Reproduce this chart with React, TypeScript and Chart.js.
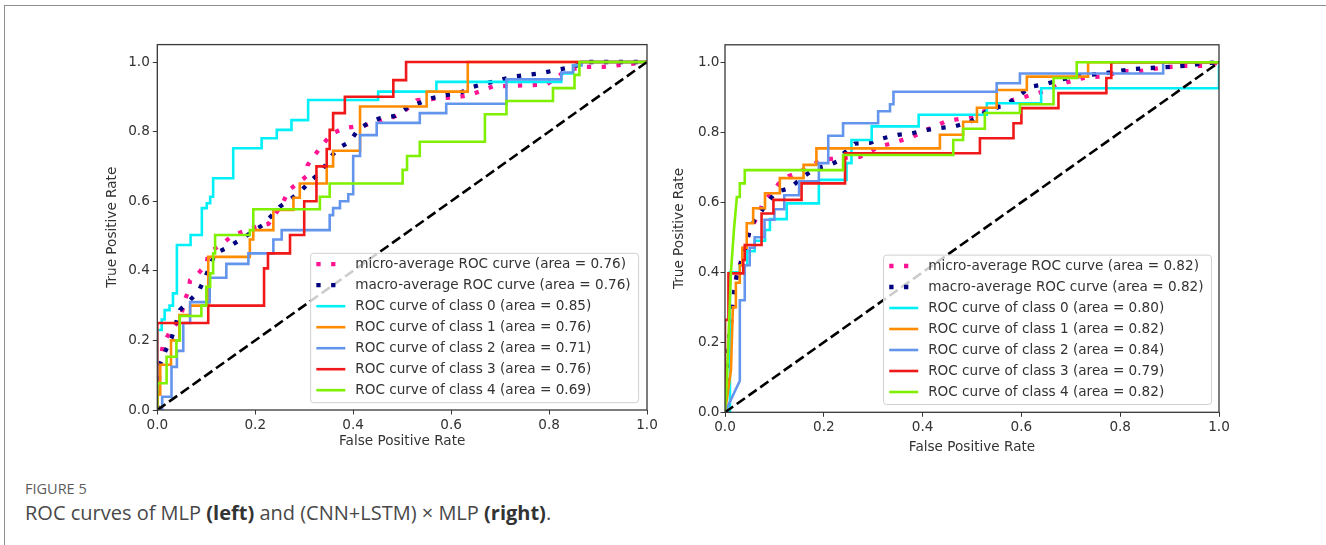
import React, { useEffect, useRef } from 'react';
import { Chart, registerables } from 'chart.js';

Chart.register(...registerables);

// ---------------- data ----------------
const tickValues = [0, 0.2, 0.4, 0.6, 0.8, 1.0];
const seriesNames = [
  'micro-average ROC curve',
  'macro-average ROC curve',
  'ROC curve of class 0',
  'ROC curve of class 1',
  'ROC curve of class 2',
  'ROC curve of class 3',
  'ROC curve of class 4',
];
const leftAreas = [0.76, 0.76, 0.85, 0.76, 0.71, 0.76, 0.69];
const rightAreas = [0.82, 0.82, 0.8, 0.82, 0.84, 0.79, 0.82];
const chanceLine = [[0, 0], [1, 1]];

// MLP (left)
const leftMicro = [[0,0],[0,0.1],[0.005,0.134],[0.012,0.19],[0.026,0.225],[0.04,0.25],[0.049,0.273],[0.056,0.316],[0.063,0.34],[0.067,0.373],[0.084,0.393],[0.101,0.421],[0.104,0.45],[0.138,0.484],[0.155,0.503],[0.175,0.513],[0.203,0.527],[0.227,0.535],[0.254,0.589],[0.269,0.632],[0.304,0.671],[0.307,0.704],[0.333,0.755],[0.356,0.793],[0.38,0.81],[0.427,0.819],[0.482,0.842],[0.503,0.857],[0.53,0.89],[0.563,0.894],[0.618,0.9],[0.638,0.905],[0.686,0.93],[0.795,0.935],[0.836,0.977],[0.876,0.986],[0.91,0.986],[1,1]];
const leftMacro = [[0,0],[0.005,0.13],[0.016,0.168],[0.029,0.206],[0.046,0.287],[0.067,0.316],[0.084,0.34],[0.097,0.378],[0.118,0.45],[0.141,0.465],[0.169,0.489],[0.216,0.532],[0.25,0.584],[0.274,0.608],[0.295,0.632],[0.315,0.661],[0.335,0.685],[0.352,0.723],[0.369,0.752],[0.393,0.771],[0.41,0.805],[0.43,0.824],[0.454,0.838],[0.485,0.845],[0.509,0.867],[0.533,0.881],[0.56,0.896],[0.59,0.905],[0.618,0.911],[0.645,0.929],[0.672,0.939],[0.727,0.958],[0.781,0.967],[0.815,0.977],[0.849,0.986],[0.876,1],[1,1]];
const leftClass0 = [[0,0],[0,0.23],[0.009,0.23],[0.009,0.26],[0.015,0.26],[0.015,0.287],[0.025,0.287],[0.025,0.3],[0.032,0.3],[0.032,0.335],[0.04,0.335],[0.04,0.474],[0.068,0.474],[0.068,0.503],[0.091,0.503],[0.091,0.58],[0.101,0.58],[0.101,0.594],[0.108,0.594],[0.108,0.613],[0.114,0.613],[0.114,0.666],[0.155,0.666],[0.155,0.752],[0.213,0.752],[0.213,0.781],[0.244,0.781],[0.244,0.805],[0.274,0.805],[0.274,0.833],[0.308,0.833],[0.308,0.891],[0.451,0.891],[0.451,0.915],[0.57,0.915],[0.57,0.943],[0.825,0.943],[0.825,0.967],[0.849,0.967],[0.849,0.991],[0.866,0.991],[0.866,1],[1,1]];
const leftClass1 = [[0,0],[0,0.045],[0.006,0.045],[0.006,0.13],[0.028,0.13],[0.028,0.2],[0.045,0.2],[0.045,0.273],[0.067,0.273],[0.067,0.3],[0.104,0.3],[0.104,0.44],[0.189,0.44],[0.189,0.49],[0.196,0.49],[0.196,0.517],[0.237,0.517],[0.237,0.575],[0.278,0.575],[0.278,0.61],[0.291,0.61],[0.291,0.651],[0.346,0.651],[0.346,0.7],[0.359,0.7],[0.359,0.745],[0.414,0.745],[0.414,0.872],[0.55,0.872],[0.55,0.915],[0.634,0.915],[0.634,1],[1,1]];
const leftClass2 = [[0,0],[0.01,0],[0.01,0.038],[0.029,0.038],[0.029,0.124],[0.04,0.124],[0.04,0.17],[0.053,0.17],[0.053,0.25],[0.067,0.25],[0.067,0.31],[0.107,0.31],[0.107,0.38],[0.141,0.38],[0.141,0.42],[0.186,0.42],[0.186,0.45],[0.237,0.45],[0.237,0.49],[0.254,0.49],[0.254,0.517],[0.352,0.517],[0.352,0.56],[0.359,0.56],[0.359,0.58],[0.373,0.58],[0.373,0.6],[0.39,0.6],[0.39,0.62],[0.4,0.62],[0.4,0.73],[0.414,0.73],[0.414,0.79],[0.448,0.79],[0.448,0.825],[0.536,0.825],[0.536,0.853],[0.59,0.853],[0.59,0.88],[0.713,0.88],[0.713,0.95],[0.825,0.95],[0.825,0.97],[0.849,0.97],[0.849,0.99],[0.866,0.99],[0.866,1],[1,1]];
const leftClass3 = [[0,0],[0,0.25],[0.104,0.25],[0.104,0.3],[0.218,0.3],[0.218,0.407],[0.226,0.407],[0.226,0.45],[0.271,0.45],[0.271,0.503],[0.3,0.503],[0.3,0.6],[0.325,0.6],[0.325,0.7],[0.346,0.7],[0.346,0.75],[0.352,0.75],[0.352,0.805],[0.359,0.805],[0.359,0.853],[0.383,0.853],[0.383,0.9],[0.482,0.9],[0.482,0.948],[0.508,0.948],[0.508,1],[1,1]];
const leftClass4 = [[0,0],[0,0.077],[0.019,0.077],[0.019,0.153],[0.039,0.153],[0.039,0.2],[0.046,0.2],[0.046,0.27],[0.09,0.27],[0.09,0.3],[0.1,0.3],[0.1,0.354],[0.108,0.354],[0.108,0.393],[0.114,0.393],[0.114,0.45],[0.118,0.45],[0.118,0.503],[0.189,0.503],[0.189,0.517],[0.196,0.517],[0.196,0.577],[0.332,0.577],[0.332,0.613],[0.352,0.613],[0.352,0.651],[0.501,0.651],[0.501,0.69],[0.51,0.69],[0.51,0.73],[0.536,0.73],[0.536,0.771],[0.669,0.771],[0.669,0.85],[0.713,0.85],[0.713,0.888],[0.808,0.888],[0.808,0.925],[0.852,0.925],[0.852,0.963],[0.862,0.963],[0.862,1],[1,1]];

// (CNN+LSTM) x MLP (right)
const rightMicro = [[0,0],[0.003,0.1],[0.008,0.2],[0.013,0.26],[0.017,0.32],[0.022,0.38],[0.03,0.42],[0.04,0.47],[0.05,0.52],[0.062,0.55],[0.077,0.597],[0.095,0.63],[0.11,0.655],[0.128,0.674],[0.152,0.688],[0.195,0.72],[0.219,0.725],[0.273,0.73],[0.293,0.744],[0.313,0.76],[0.337,0.768],[0.381,0.788],[0.408,0.807],[0.425,0.817],[0.445,0.83],[0.469,0.837],[0.5,0.845],[0.54,0.87],[0.577,0.89],[0.604,0.9],[0.64,0.915],[0.685,0.94],[0.725,0.955],[0.765,0.96],[0.806,0.975],[0.84,0.975],[0.887,0.985],[0.928,0.99],[0.975,0.99],[1,1]];
const rightMacro = [[0,0],[0.004,0.1],[0.008,0.2],[0.012,0.28],[0.018,0.34],[0.025,0.4],[0.033,0.43],[0.042,0.47],[0.05,0.52],[0.06,0.55],[0.074,0.575],[0.084,0.597],[0.104,0.63],[0.131,0.64],[0.159,0.674],[0.183,0.697],[0.212,0.707],[0.226,0.716],[0.239,0.738],[0.263,0.768],[0.293,0.77],[0.32,0.783],[0.35,0.793],[0.378,0.797],[0.408,0.807],[0.435,0.812],[0.465,0.817],[0.496,0.83],[0.53,0.86],[0.57,0.88],[0.594,0.902],[0.617,0.93],[0.648,0.937],[0.675,0.949],[0.705,0.958],[0.732,0.963],[0.765,0.968],[0.82,0.98],[0.877,0.985],[0.934,0.99],[0.968,0.997],[1,1]];
const rightClass0 = [[0,0],[0.01,0],[0.01,0.4],[0.03,0.4],[0.03,0.42],[0.045,0.42],[0.045,0.46],[0.06,0.46],[0.06,0.49],[0.081,0.49],[0.081,0.521],[0.091,0.521],[0.091,0.552],[0.125,0.552],[0.125,0.597],[0.19,0.597],[0.19,0.664],[0.246,0.664],[0.246,0.712],[0.256,0.712],[0.256,0.778],[0.297,0.778],[0.297,0.817],[0.392,0.817],[0.392,0.85],[0.53,0.85],[0.53,0.883],[0.64,0.883],[0.64,0.926],[1,0.926],[1,1]];
const rightClass1 = [[0,0],[0.005,0.05],[0.012,0.12],[0.016,0.3],[0.022,0.3],[0.022,0.37],[0.03,0.37],[0.03,0.42],[0.035,0.42],[0.035,0.47],[0.044,0.47],[0.044,0.54],[0.057,0.54],[0.057,0.583],[0.081,0.583],[0.081,0.626],[0.111,0.626],[0.111,0.669],[0.159,0.669],[0.159,0.707],[0.185,0.707],[0.185,0.754],[0.435,0.754],[0.435,0.793],[0.482,0.793],[0.482,0.83],[0.51,0.83],[0.51,0.87],[0.55,0.87],[0.55,0.921],[0.611,0.921],[0.611,0.959],[0.735,0.959],[0.735,1],[1,1]];
const rightClass2 = [[0,0],[0.03,0.09],[0.03,0.32],[0.04,0.32],[0.04,0.42],[0.05,0.42],[0.05,0.47],[0.06,0.47],[0.06,0.5],[0.08,0.5],[0.08,0.55],[0.1,0.55],[0.1,0.58],[0.12,0.58],[0.12,0.62],[0.15,0.62],[0.15,0.66],[0.19,0.66],[0.19,0.712],[0.209,0.712],[0.209,0.79],[0.239,0.79],[0.239,0.826],[0.31,0.826],[0.31,0.86],[0.334,0.86],[0.334,0.88],[0.341,0.88],[0.341,0.916],[0.55,0.916],[0.55,0.94],[0.597,0.94],[0.597,0.968],[0.887,0.968],[0.887,1],[1,1]];
const rightClass3 = [[0,0],[0,0.264],[0.007,0.264],[0.007,0.397],[0.037,0.397],[0.037,0.435],[0.04,0.435],[0.04,0.478],[0.074,0.478],[0.074,0.568],[0.098,0.568],[0.098,0.607],[0.155,0.607],[0.155,0.654],[0.243,0.654],[0.243,0.74],[0.516,0.74],[0.516,0.783],[0.584,0.783],[0.584,0.826],[0.6,0.826],[0.6,0.869],[0.675,0.869],[0.675,0.912],[0.772,0.912],[0.772,0.955],[0.782,0.955],[0.782,1],[1,1]];
const rightClass4 = [[0,0],[0.004,0.1],[0.008,0.25],[0.012,0.4],[0.018,0.52],[0.024,0.615],[0.03,0.615],[0.03,0.654],[0.04,0.654],[0.04,0.692],[0.239,0.692],[0.239,0.735],[0.462,0.735],[0.462,0.778],[0.482,0.778],[0.482,0.81],[0.526,0.81],[0.526,0.855],[0.597,0.855],[0.597,0.88],[0.665,0.88],[0.665,0.955],[0.712,0.955],[0.712,1],[1,1]];

const leftSeries = [leftMicro, leftMacro, leftClass0, leftClass1, leftClass2, leftClass3, leftClass4];
const rightSeries = [rightMicro, rightMacro, rightClass0, rightClass1, rightClass2, rightClass3, rightClass4];

// ---------------- styles ----------------
const seriesColors = ['#ff1493', '#000080', '#00f0f8', '#ff8c00', '#6495ed', '#f01818', '#7ef000'];
const FONT = "'DejaVu Sans', sans-serif";
const FS = 13.6;
const INK = '#333333';

const framePlugin = {
  id: 'rocFrame',
  afterDatasetsDraw(chart: any, _args: any, opts: any) {
    const { ctx, chartArea } = chart;
    const { left, top, right, bottom } = chartArea;
    ctx.save();
    ctx.strokeStyle = '#383838';
    ctx.lineWidth = 1.3;
    ctx.setLineDash([]);
    ctx.strokeRect(left, top, right - left, bottom - top);

    const items = chart.data.datasets.filter((d: any) => d.label);
    ctx.font = `${FS}px ${FONT}`;
    const textW = Math.max(...items.map((d: any) => ctx.measureText(d.label).width));
    const w = opts.textOffset + textW + opts.rightPad;
    const h = opts.height;
    const x1 = right - opts.right;
    const y1 = bottom - opts.bottom;
    const x0 = x1 - w;
    const y0 = y1 - h;
    const r = 3;
    ctx.beginPath();
    ctx.moveTo(x0 + r, y0);
    ctx.lineTo(x1 - r, y0);
    ctx.quadraticCurveTo(x1, y0, x1, y0 + r);
    ctx.lineTo(x1, y1 - r);
    ctx.quadraticCurveTo(x1, y1, x1 - r, y1);
    ctx.lineTo(x0 + r, y1);
    ctx.quadraticCurveTo(x0, y1, x0, y1 - r);
    ctx.lineTo(x0, y0 + r);
    ctx.quadraticCurveTo(x0, y0, x0 + r, y0);
    ctx.closePath();
    ctx.fillStyle = 'rgba(255,255,255,0.8)';
    ctx.fill();
    ctx.strokeStyle = '#d0d0d0';
    ctx.lineWidth = 1;
    ctx.stroke();

    items.forEach((d: any, i: number) => {
      const cy = y0 + opts.firstRow + i * opts.rowStep;
      ctx.beginPath();
      ctx.strokeStyle = d.borderColor;
      ctx.lineWidth = d.borderWidth;
      ctx.lineCap = 'butt';
      ctx.setLineDash(d.borderDash || []);
      ctx.moveTo(x0 + opts.handleStart, cy);
      ctx.lineTo(x0 + opts.handleStart + opts.handleLen, cy);
      ctx.stroke();
      ctx.setLineDash([]);
      ctx.fillStyle = INK;
      ctx.textBaseline = 'middle';
      ctx.textAlign = 'left';
      ctx.fillText(d.label, x0 + opts.textOffset, cy + 0.5);
    });
    ctx.restore();
  },
};

type Geom = {
  left: number; top: number; width: number; height: number;
  padTop: number; padRight: number; yAxisW: number; xAxisH: number;
  yTitlePad: number; xTitlePad: number; xTickPad: number; yTickPad: number;
  legRight: number; legBottom: number;
};

const leftGeom: Geom = { left: 90, top: 30, width: 575, height: 430, padTop: 14.6, padRight: 18, yAxisW: 67.3, xAxisH: 50, yTitlePad: 14.8, xTitlePad: 10.8, xTickPad: 2.4, yTickPad: 3, legRight: 8.4, legBottom: 7.3 };
const rightGeom: Geom = { left: 660, top: 30, width: 580, height: 436, padTop: 14.8, padRight: 21, yAxisW: 65, xAxisH: 53.7, yTitlePad: 11.8, xTitlePad: 10.8, xTickPad: 3, yTickPad: 1, legRight: 7.5, legBottom: 7.8 };

function RocPanel({ geom, series, areas }: { geom: Geom; series: number[][][]; areas: number[] }) {
  const ref = useRef<HTMLCanvasElement>(null);
  useEffect(() => {
    if (!ref.current) return;
    const datasets: any[] = series.map((pts, i) => ({
      label: `${seriesNames[i]} (area = ${areas[i].toFixed(2)})`,
      data: pts.map(([x, y]) => ({ x, y })),
      borderColor: seriesColors[i],
      borderWidth: i < 2 ? 4.3 : 2.6,
      borderDash: i < 2 ? [4.3, 10.5] : [],
      borderCapStyle: 'butt',
      borderJoinStyle: 'miter',
      pointRadius: 0,
      pointHoverRadius: 0,
      tension: 0,
      fill: false,
      order: 20 - i,
    }));
    datasets.push({
      label: '',
      data: chanceLine.map(([x, y]) => ({ x, y })),
      borderColor: '#000000',
      borderWidth: 2.6,
      borderDash: [10, 4.4],
      borderCapStyle: 'butt',
      pointRadius: 0,
      tension: 0,
      fill: false,
      order: 0,
    });
    const tickFont = { family: FONT, size: FS };
    const chart = new Chart(ref.current, {
      type: 'line',
      data: { datasets },
      plugins: [framePlugin],
      options: {
        responsive: false,
        animation: false,
        events: [],
        layout: { padding: { top: geom.padTop, right: geom.padRight, left: 0, bottom: 0 } },
        plugins: {
          legend: { display: false },
          tooltip: { enabled: false },
          rocFrame: { right: geom.legRight, bottom: geom.legBottom, height: 149.4, firstRow: 10.9, rowStep: 21, handleStart: 5.7, handleLen: 29, textOffset: 44.6, rightPad: 8 },
        } as any,
        scales: {
          x: {
            type: 'linear',
            min: 0,
            max: 1,
            afterBuildTicks: (a: any) => { a.ticks = tickValues.map((v) => ({ value: v })); },
            afterFit: (a: any) => { a.height = geom.xAxisH; },
            grid: { display: true, drawOnChartArea: false, drawTicks: true, tickLength: 4.5, color: '#383838', lineWidth: 1 },
            border: { display: false },
            ticks: { padding: geom.xTickPad, color: INK, font: tickFont, maxRotation: 0, autoSkip: false, callback: (v: any) => Number(v).toFixed(1) },
            title: { display: true, text: 'False Positive Rate', color: INK, font: tickFont, padding: { top: 0, bottom: geom.xTitlePad } },
          },
          y: {
            type: 'linear',
            min: 0,
            max: 1.05,
            afterBuildTicks: (a: any) => { a.ticks = tickValues.map((v) => ({ value: v })); },
            afterFit: (a: any) => { a.width = geom.yAxisW; },
            grid: { display: true, drawOnChartArea: false, drawTicks: true, tickLength: 4.5, color: '#383838', lineWidth: 1 },
            border: { display: false },
            ticks: { padding: geom.yTickPad, color: INK, font: tickFont, autoSkip: false, callback: (v: any) => Number(v).toFixed(1) },
            title: { display: true, text: 'True Positive Rate', color: INK, font: tickFont, padding: { top: geom.yTitlePad, bottom: 0 } },
          },
        },
      } as any,
    });
    return () => chart.destroy();
  }, []);
  return (
    <canvas
      ref={ref}
      width={geom.width}
      height={geom.height}
      style={{ position: 'absolute', left: geom.left, top: geom.top, width: geom.width, height: geom.height }}
    />
  );
}

export default function App() {
  return (
    <div style={{ position: 'absolute', left: 0, top: 0, width: 1326, height: 545, overflow: 'hidden', background: '#fff' }}>
      <div style={{ position: 'absolute', left: 4, top: 5, right: -10, bottom: -10, borderTop: '1.3px solid #8e8e8e', borderLeft: '1.3px solid #8e8e8e' }} />
      <RocPanel geom={leftGeom} series={leftSeries} areas={leftAreas} />
      <RocPanel geom={rightGeom} series={rightSeries} areas={rightAreas} />
      <div style={{ position: 'absolute', left: 25, top: 480, fontFamily: "'Open Sans', sans-serif", fontSize: 14.5, lineHeight: '18px', color: '#5c5c5c', whiteSpace: 'nowrap' }}>
        FIGURE 5
      </div>
      <div style={{ position: 'absolute', left: 25, top: 500, fontFamily: "'Open Sans', sans-serif", fontSize: 20, lineHeight: '26px', color: '#484848', whiteSpace: 'nowrap' }}>
        ROC curves of MLP <b style={{ fontWeight: 700, color: '#333' }}>(left)</b> and (CNN+LSTM) × MLP <b style={{ fontWeight: 700, color: '#333' }}>(right)</b>.
      </div>
    </div>
  );
}
